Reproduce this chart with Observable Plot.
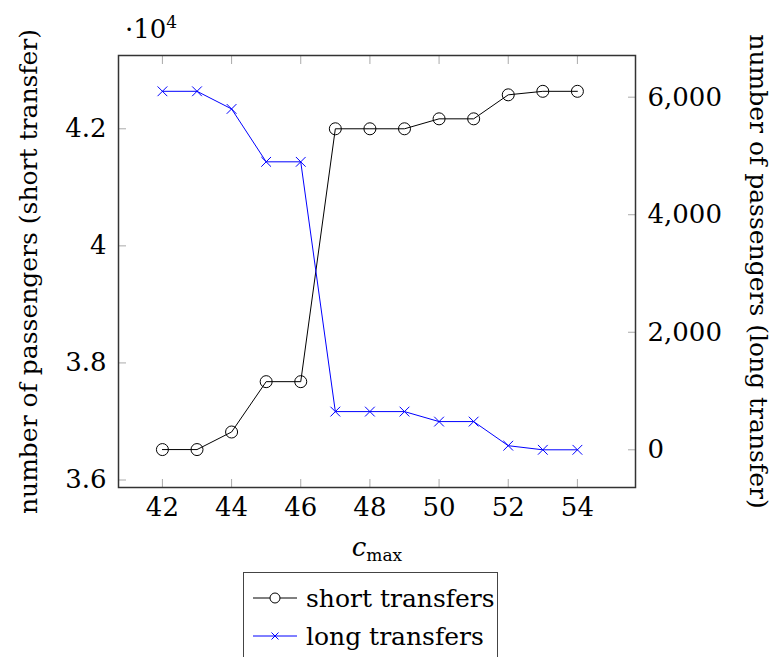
<!DOCTYPE html>
<html>
<head>
<meta charset="utf-8">
<script src="https://cdn.jsdelivr.net/npm/d3@7"></script>
<script src="https://cdn.jsdelivr.net/npm/@observablehq/plot@0.6"></script>
<style>
  body { margin: 0; background: white; font-family: "DejaVu Serif", serif; }
  #wrap { position: relative; width: 777px; height: 657px; overflow: hidden; }
  .lbl { position: absolute; font-size: 26px; color: #000; white-space: nowrap; line-height: 1; }
  #legend { position: absolute; left: 243px; top: 572px; width: 255px; height: 100px; border: 1.5px solid #444; box-sizing: border-box; background: white; }
  .entry { position: absolute; left: 8px; height: 36px; display: flex; align-items: center; font-size: 25px; }
  .entry svg { margin-right: 8px; }
</style>
</head>
<body>
<div id="wrap"></div>
<script>
// ---- data ----
const cmax = [42, 43, 44, 45, 46, 47, 48, 49, 50, 51, 52, 53, 54];
const shortTransfers = [36520, 36520, 36820, 37680, 37680, 42000, 42000, 42000, 42170, 42170, 42580, 42640, 42640];
const longTransfers = [6100, 6100, 5800, 4900, 4900, 650, 650, 650, 480, 480, 70, 0, 0];
const xTicks = [42, 44, 46, 48, 50, 52, 54];
const leftTicks = [3.6, 3.8, 4, 4.2];
const rightTicks = [0, 2000, 4000, 6000];
const leftLabel = "number of passengers (short transfer)";
const rightLabel = "number of passengers (long transfer)";
const seriesNames = ["short transfers", "long transfers"];

// ---- layout / scales ----
const xDomain = [40.73, 55.68];
const yDomain = [3.5872, 4.3252];           // left axis, in units of 10^4
const rightAtZero = 3.6516, rightPerUnit = 0.0001004;  // right axis mapped onto left scale
const toLeft = v => rightAtZero + v * rightPerUnit;
const fromLeft = v => Math.round((v - rightAtZero) / rightPerUnit / 100) * 100;

const rows = cmax.map((c, i) => ({c, s: shortTransfers[i] / 1e4, l: toLeft(longTransfers[i])}));
const fmt = d3.format(",");
const tickGray = "#aaaaaa";
const font = "DejaVu Serif";

const chart = Plot.plot({
  width: 777, height: 560,
  marginLeft: 118, marginRight: 142, marginTop: 55, marginBottom: 73,
  x: {domain: xDomain},
  y: {domain: yDomain},
  style: {fontFamily: font, fontSize: "26px", background: "transparent", color: "black"},
  marks: [
    // x axis: labels + inward ticks bottom and top
    Plot.axisX({ticks: xTicks, anchor: "bottom", tickSize: 0, tickPadding: 10, tickFormat: d => String(d), label: null}),
    Plot.axisX({ticks: xTicks, anchor: "bottom", tickSize: -8, tickFormat: () => "", stroke: tickGray, label: null}),
    Plot.axisX({ticks: xTicks, anchor: "top", tickSize: -8, tickFormat: () => "", stroke: tickGray, label: null}),
    // left axis
    Plot.axisY({ticks: leftTicks, anchor: "left", tickSize: 0, tickPadding: 12, tickFormat: d => String(d), label: null}),
    Plot.axisY({ticks: leftTicks, anchor: "left", tickSize: -8, tickFormat: () => "", stroke: tickGray, label: null}),
    // right axis
    Plot.axisY({ticks: rightTicks.map(toLeft), anchor: "right", tickSize: 0, tickPadding: 12, tickFormat: v => fmt(fromLeft(v)), label: null}),
    Plot.axisY({ticks: rightTicks.map(toLeft), anchor: "right", tickSize: -8, tickFormat: () => "", stroke: tickGray, label: null}),
    // series
    Plot.line(rows, {x: "c", y: "s", stroke: "black", strokeWidth: 1}),
    Plot.dot(rows, {x: "c", y: "s", r: 6, stroke: "black", fill: "none", strokeWidth: 1}),
    Plot.line(rows, {x: "c", y: "l", stroke: "#0000ff", strokeWidth: 1}),
    Plot.dot(rows, {x: "c", y: "l", r: 4.5, symbol: "times", stroke: "#0000ff", strokeWidth: 1}),
    // axis titles
    Plot.text([leftLabel], {frameAnchor: "left", dx: -90, rotate: -90, textAnchor: "middle", text: d => d, fontSize: 25}),
    Plot.text([rightLabel], {frameAnchor: "right", dx: 122, rotate: 90, textAnchor: "middle", text: d => d, fontSize: 25}),
    Plot.frame({stroke: "#333", strokeWidth: 1.5})
  ]
});

const wrap = document.getElementById("wrap");
chart.style.position = "absolute";
chart.style.left = "0px";
chart.style.top = "0px";
wrap.appendChild(chart);

// multiplier
const mult = document.createElement("div");
mult.className = "lbl";
mult.style.left = "125px"; mult.style.top = "14px";
mult.innerHTML = "·10<sup style='font-size:17px; vertical-align: 10px'>4</sup>";
wrap.appendChild(mult);

// x label
const xl = document.createElement("div");
xl.className = "lbl";
xl.style.left = "377px"; xl.style.top = "534px"; xl.style.transform = "translateX(-50%)";
xl.innerHTML = "<i>c</i><span style='font-size:17px; vertical-align:-5px'>max</span>";
wrap.appendChild(xl);

// legend
const legend = document.createElement("div");
legend.id = "legend";
const sym = [
  `<svg width="46" height="20"><line x1="1" y1="10" x2="45" y2="10" stroke="black"/><circle cx="23" cy="10" r="5" fill="white" stroke="black"/></svg>`,
  `<svg width="46" height="20"><line x1="1" y1="10" x2="45" y2="10" stroke="#0000ff"/><path d="M19.5 6.5L26.5 13.5M26.5 6.5L19.5 13.5" stroke="#0000ff"/></svg>`
];
seriesNames.forEach((n, i) => {
  const e = document.createElement("div");
  e.className = "entry";
  e.style.top = (7 + i * 38) + "px";
  e.innerHTML = sym[i] + "<span>" + n + "</span>";
  legend.appendChild(e);
});
wrap.appendChild(legend);
</script>
</body>
</html>
